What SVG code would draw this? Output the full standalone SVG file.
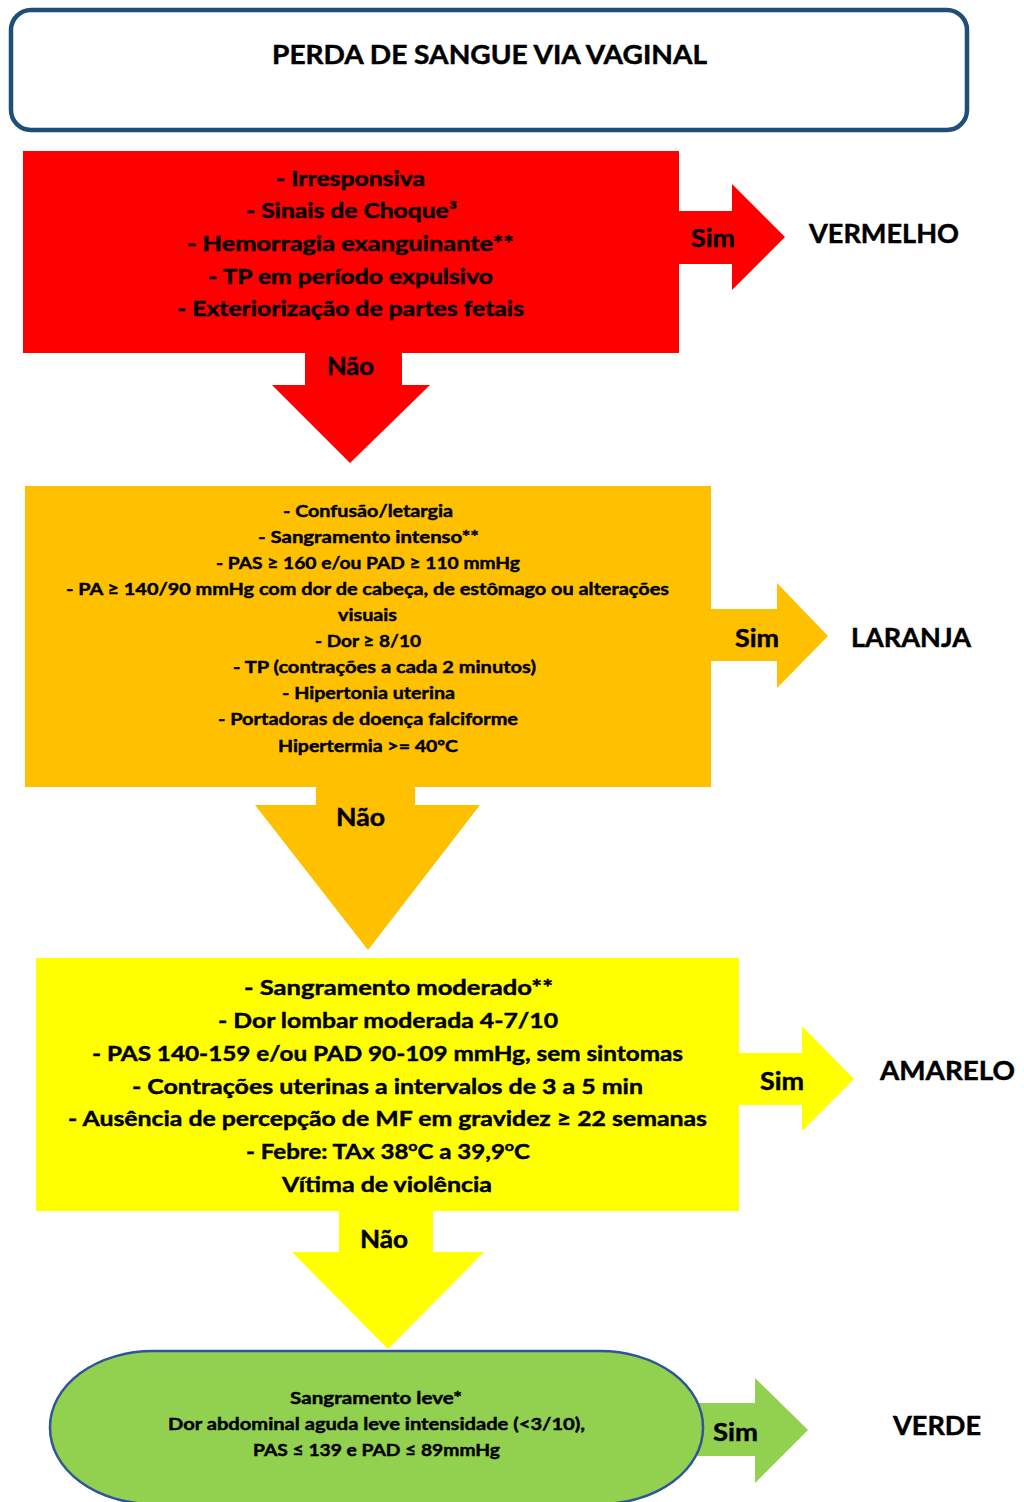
<svg xmlns="http://www.w3.org/2000/svg" width="1024" height="1502" viewBox="0 0 1024 1502">
<style>
text{font-family:Lato,"Open Sans","Liberation Sans",sans-serif;font-weight:bold;fill:#000;stroke:#000;stroke-width:0.45;text-anchor:middle}
.r{font-size:21px}
.o{font-size:17px}
.y{font-size:21px}
.g{font-size:17px}
.lbl{font-size:24px}
.res{font-size:26px;text-anchor:start}
</style>
<g id="header">
<rect x="11" y="10" width="956" height="120" rx="20" ry="20" fill="#fff" stroke="#1F4E79" stroke-width="4.5"/>
<text x="489.5" y="64" font-size="26" textLength="435" lengthAdjust="spacingAndGlyphs">PERDA DE SANGUE VIA VAGINAL</text>
</g>
<g id="connectors">
<polygon points="670,211 732,211 732,184 785,237 732,290 732,264 670,264" fill="#FF0000"/>
<polygon points="305,345 402,345 402,385 430,385 350,463 272,385 305,385" fill="#FF0000"/>
<polygon points="700,609 777,609 777,583 828,636 777,688 777,661 700,661" fill="#FFC000"/>
<polygon points="316,780 415,780 415,805 480,805 368,950 255,805 316,805" fill="#FFC000"/>
<polygon points="730,1053 802,1053 802,1026 854,1079 802,1131 802,1105 730,1105" fill="#FFFF00"/>
<polygon points="339,1205 433,1205 433,1252 484,1252 388,1349 292,1252 339,1252" fill="#FFFF00"/>
<polygon points="690,1403 755,1403 755,1378 808,1430 755,1483 755,1456 690,1456" fill="#92D050"/>
</g>
<g id="red">
<rect x="23" y="151" width="656" height="202" fill="#FF0000"/>
<text class="r" x="350.5" y="186" textLength="149" lengthAdjust="spacingAndGlyphs">- Irresponsiva</text>
<text class="r" x="351.5" y="218" textLength="211" lengthAdjust="spacingAndGlyphs">- Sinais de Choque³</text>
<text class="r" x="350.5" y="251" textLength="327" lengthAdjust="spacingAndGlyphs">- Hemorragia exanguinante**</text>
<text class="r" x="350.5" y="284" textLength="285" lengthAdjust="spacingAndGlyphs">- TP em período expulsivo</text>
<text class="r" x="350.5" y="316" textLength="347" lengthAdjust="spacingAndGlyphs">- Exteriorização de partes fetais</text>
</g>
<g id="orange">
<rect x="25" y="486" width="686" height="301" fill="#FFC000"/>
<text class="o" x="368" y="517" textLength="170" lengthAdjust="spacingAndGlyphs">- Confusão/letargia</text>
<text class="o" x="368.5" y="543" textLength="221" lengthAdjust="spacingAndGlyphs">- Sangramento intenso**</text>
<text class="o" x="368" y="569" textLength="304" lengthAdjust="spacingAndGlyphs">- PAS ≥ 160 e/ou PAD ≥ 110 mmHg</text>
<text class="o" x="367.5" y="595" textLength="603" lengthAdjust="spacingAndGlyphs">- PA ≥ 140/90 mmHg com dor de cabeça, de estômago ou alterações</text>
<text class="o" x="367.5" y="621" textLength="59" lengthAdjust="spacingAndGlyphs">visuais</text>
<text class="o" x="368" y="647" textLength="106" lengthAdjust="spacingAndGlyphs">- Dor ≥ 8/10</text>
<text class="o" x="384.5" y="673" textLength="303" lengthAdjust="spacingAndGlyphs">- TP (contrações a cada 2 minutos)</text>
<text class="o" x="368.5" y="699" textLength="173" lengthAdjust="spacingAndGlyphs">- Hipertonia uterina</text>
<text class="o" x="368" y="725" textLength="300" lengthAdjust="spacingAndGlyphs">- Portadoras de doença falciforme</text>
<text class="o" x="368" y="752" textLength="180" lengthAdjust="spacingAndGlyphs">Hipertermia &gt;= 40ºC</text>
</g>
<g id="yellow">
<rect x="36" y="958" width="703" height="253" fill="#FFFF00"/>
<text class="y" x="398.5" y="995" textLength="309" lengthAdjust="spacingAndGlyphs">- Sangramento moderado**</text>
<text class="y" x="388" y="1028" textLength="340" lengthAdjust="spacingAndGlyphs">- Dor lombar moderada 4-7/10</text>
<text class="y" x="387.5" y="1061" textLength="591" lengthAdjust="spacingAndGlyphs">- PAS 140-159 e/ou PAD 90-109 mmHg, sem sintomas</text>
<text class="y" x="387.5" y="1094" textLength="511" lengthAdjust="spacingAndGlyphs">- Contrações uterinas a intervalos de 3 a 5 min</text>
<text class="y" x="387.5" y="1126" textLength="639" lengthAdjust="spacingAndGlyphs">- Ausência de percepção de MF em gravidez ≥ 22 semanas</text>
<text class="y" x="388" y="1159" textLength="284" lengthAdjust="spacingAndGlyphs">- Febre: TAx 38<tspan font-size="14" dy="-8">o</tspan><tspan dy="8">C a 39,9</tspan><tspan font-size="14" dy="-8">o</tspan><tspan dy="8">C</tspan></text>
<text class="y" x="387" y="1192" textLength="210" lengthAdjust="spacingAndGlyphs">Vítima de violência</text>
</g>
<g id="green">
<rect x="50" y="1351" width="653" height="153" rx="103" ry="76" fill="#92D050" stroke="#2F5597" stroke-width="2.5"/>
<text class="g" x="376" y="1404" textLength="172" lengthAdjust="spacingAndGlyphs">Sangramento leve*</text>
<text class="g" x="376.5" y="1430" textLength="417" lengthAdjust="spacingAndGlyphs">Dor abdominal aguda leve intensidade (&lt;3/10),</text>
<text class="g" x="376.5" y="1456" textLength="247" lengthAdjust="spacingAndGlyphs">PAS ≤ 139 e PAD ≤ 89mmHg</text>
</g>
<g id="labels">
<text class="lbl" x="713" y="247" textLength="44" lengthAdjust="spacingAndGlyphs">Sim</text>
<text class="lbl" x="350.5" y="375" textLength="47" lengthAdjust="spacingAndGlyphs">Não</text>
<text class="lbl" x="757" y="647" textLength="44" lengthAdjust="spacingAndGlyphs">Sim</text>
<text class="lbl" x="360.5" y="826" textLength="49" lengthAdjust="spacingAndGlyphs">Não</text>
<text class="lbl" x="782" y="1090" textLength="44" lengthAdjust="spacingAndGlyphs">Sim</text>
<text class="lbl" x="384" y="1248" textLength="48" lengthAdjust="spacingAndGlyphs">Não</text>
<text class="lbl" x="735.5" y="1441" textLength="45" lengthAdjust="spacingAndGlyphs">Sim</text>
</g>
<g id="outcomes">
<text class="res" x="809" y="243" textLength="150" lengthAdjust="spacingAndGlyphs">VERMELHO</text>
<text class="res" x="851" y="647" textLength="120" lengthAdjust="spacingAndGlyphs">LARANJA</text>
<text class="res" x="880" y="1080" textLength="135" lengthAdjust="spacingAndGlyphs">AMARELO</text>
<text class="res" x="893" y="1435" textLength="88" lengthAdjust="spacingAndGlyphs">VERDE</text>
</g>
</svg>
